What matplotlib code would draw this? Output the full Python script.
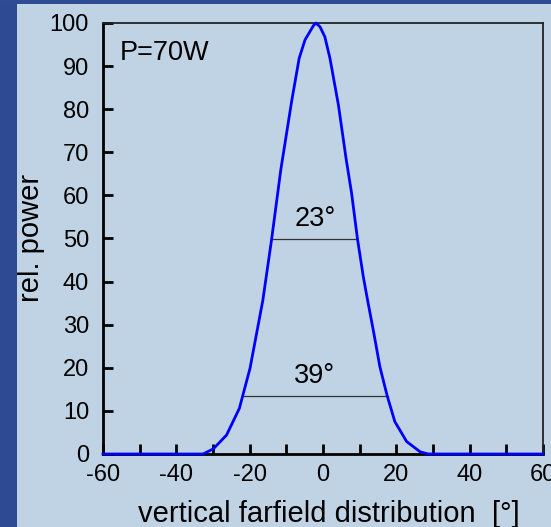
import matplotlib
matplotlib.use("Agg")
import matplotlib.pyplot as plt
from matplotlib.patches import Rectangle

# (degrees, relative power %)
angle = [-60, -32.7, -29.9, -26.3, -22.8, -19.9, -16.4, -14.0, -11.5,
         -8.5, -6.5, -4.9, -2.6, -1.9, -0.8, 0.5, 1.9, 4.2, 6.3, 7.8, 9.4,
         11.0, 12.2, 13.7, 15.5, 17.5, 19.6, 22.8, 26.5, 28.7, 60]
power = [0, 0, 1.2, 4.4, 10.6, 19.9, 35.7, 49.9, 66.0,
         82.1, 91.8, 96.1, 99.4, 100, 99.1, 96.8, 91.8, 81.0, 68.5, 60.5, 49.9,
         41.1, 35.5, 28.8, 20.3, 13.5, 7.5, 2.9, 0.5, 0, 0]

# width markers: (left, right, level, label)
fwhm_x = [-14.0, 9.4]
fwhm_y = 49.9
fwhm_label = "23°"
w13_x = [-21.9, 17.8]
w13_y = 13.5
w13_label = "39°"

power_label = "P=70W"

bg = "#C0D3E4"
plt.rcParams["font.family"] = ["Liberation Sans", "DejaVu Sans"]
plt.rcParams["axes.unicode_minus"] = False

W, H = 551, 527
fig = plt.figure(figsize=(W / 100, H / 100), dpi=100, facecolor=bg)
# slide background stripes
fig.patches.append(Rectangle((0, 0), 17 / W, 1, transform=fig.transFigure,
                             facecolor="#2D4A92", edgecolor="none", zorder=0))
fig.patches.append(Rectangle((0, 1 - 4 / H), 1, 4 / H, transform=fig.transFigure,
                             facecolor="#2E4C94", edgecolor="none", zorder=0))

ax = fig.add_axes([103 / W, 73 / H, 440 / W, 431 / H])
ax.set_facecolor(bg)

ax.plot(angle, power, color="#0000FF", lw=2.0, zorder=3, clip_on=False)
ax.plot(fwhm_x, [fwhm_y, fwhm_y], color="#333333", lw=0.9)
ax.plot(w13_x, [w13_y, w13_y], color="#333333", lw=0.9)
ax.text(-2.2, fwhm_y + 1.5, fwhm_label, ha="center", va="bottom", fontsize=19.5)
ax.text(-2.2, w13_y + 1.5, w13_label, ha="center", va="bottom", fontsize=19.5)
ax.text(-55.5, 93, power_label, ha="left", va="center", fontsize=19.5)

ax.set_xlim(-60, 60)
ax.set_ylim(0, 100)
ax.set_xticks(range(-60, 61, 20))
ax.set_xticks(range(-50, 60, 10), minor=True)
ax.set_yticks(range(0, 101, 10))
ax.tick_params(direction="in", length=7, width=2, labelsize=17, color="black")
ax.tick_params(axis="x", which="minor", direction="in", length=7, width=2)
ax.tick_params(axis="x", pad=7)
ax.tick_params(axis="y", pad=10)

ax.spines["left"].set_linewidth(2)
ax.spines["bottom"].set_linewidth(2)
ax.spines["top"].set_linewidth(1.3)
ax.spines["right"].set_linewidth(1.3)
ax.spines["top"].set_color("#222222")
ax.spines["right"].set_color("#222222")

ax.set_xlabel("vertical farfield distribution  [°]", fontsize=21)
ax.set_ylabel("rel. power", fontsize=21)
ax.xaxis.set_label_coords(329 / W, 5 / H, transform=fig.transFigure)
ax.xaxis.label.set_va("baseline")
ax.yaxis.set_label_coords(31 / W, (H - 238) / H, transform=fig.transFigure)
ax.yaxis.label.set_va("center")

fig.savefig("out.png", dpi=100, facecolor=bg)
